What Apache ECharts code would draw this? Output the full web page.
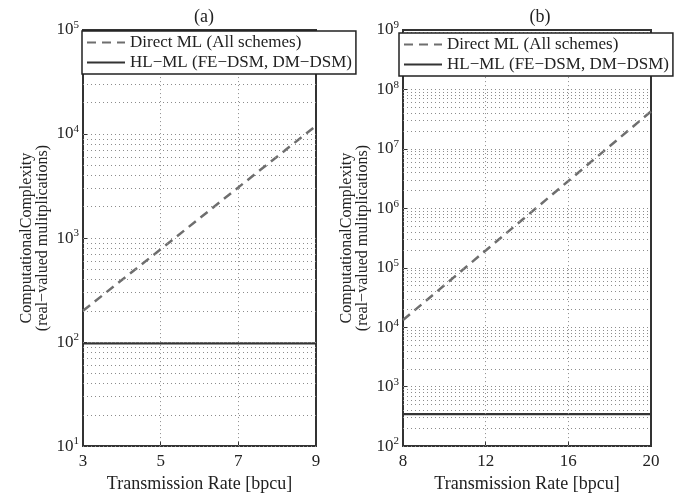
<!DOCTYPE html>
<html>
<head>
<meta charset="utf-8">
<script src="https://cdn.jsdelivr.net/npm/echarts@6/dist/echarts.min.js"></script>
<style>
  html, body { margin: 0; padding: 0; background: #fff; }
  #chart { width: 681px; height: 498px; }
</style>
</head>
<body>
<div id="chart"></div>
<script>
// (a) left panel
var rateA = [3, 5, 7, 9]
var directA = [200, 780, 3070, 12000]
var hlA = [97, 97, 97, 97]
var xTicksA = [3, 5, 7, 9]

// (b) right panel
var rateB = [8, 12, 16, 20]
var directB = [13200, 195000, 2880000, 42700000]
var hlB = [345, 345, 345, 345]
var xTicksB = [8, 12, 16, 20]

var nameDirect = 'Direct ML (All schemes)'
var nameHL = 'HL\u2212ML (FE\u2212DSM, DM\u2212DSM)'
var yName = 'ComputationalComplexity\n(real\u2212valued mulitplications)'

var font = 'Liberation Serif'
var ink = '#222'
var gridColor = '#8c8c8c'

function pairs(xs, ys) {
  return xs.map(function (x, i) { return [x, ys[i]] })
}

// minor + major horizontal grid values for a log axis
function logGrid(lo, hi) {
  var out = []
  for (var e = lo; e < hi; e++) {
    for (var m = 1; m < 10; m++) out.push({ yAxis: m * Math.pow(10, e) })
  }
  return out
}

function xGrid(ticks) {
  return ticks.slice(1, -1).map(function (v) { return { xAxis: v } })
}

function supLabel(v) {
  return '10{sup|' + Math.round(Math.log10(v)) + '}'
}

function xAxisOf(idx, min, max, ticks) {
  return {
    gridIndex: idx,
    type: 'value',
    min: min,
    max: max,
    interval: 1,
    name: 'Transmission Rate [bpcu]',
    nameLocation: 'middle',
    nameGap: 27,
    nameTextStyle: { fontFamily: font, fontSize: 18, color: ink },
    axisLine: { lineStyle: { color: '#333', width: 2 } },
    axisTick: { inside: true, length: 5, customValues: ticks, lineStyle: { color: '#333' } },
    axisLabel: { customValues: ticks, fontFamily: font, fontSize: 17, color: ink, margin: 7 },
    splitLine: { show: false }
  }
}

function yAxisOf(idx, min, max) {
  return {
    gridIndex: idx,
    type: 'log',
    logBase: 10,
    min: min,
    max: max,
    name: yName,
    nameLocation: 'middle',
    nameRotate: 90,
    nameGap: 32,
    nameTextStyle: { fontFamily: font, fontSize: 16, color: ink, lineHeight: 16 },
    axisLine: { lineStyle: { color: '#333', width: 2 } },
    axisTick: { inside: true, length: 5, lineStyle: { color: '#333' } },
    axisLabel: {
      formatter: supLabel,
      fontFamily: font,
      fontSize: 17,
      color: ink,
      margin: 4,
      rich: {
        sup: { fontFamily: font, fontSize: 11, color: ink, padding: [0, 0, 9, 0] }
      }
    },
    splitLine: { show: false }
  }
}

function gridSeries(xi, lo, hi, ticks) {
  return {
    name: 'grid',
    type: 'line',
    xAxisIndex: xi,
    yAxisIndex: xi,
    data: [],
    z: 1,
    markLine: {
      silent: true,
      symbol: 'none',
      animation: false,
      label: { show: false },
      lineStyle: { color: gridColor, type: [1, 3], width: 1 },
      emphasis: { disabled: true },
      data: logGrid(lo, hi).concat(xGrid(ticks))
    }
  }
}

function directSeries(xi, xs, ys) {
  return {
    name: nameDirect,
    type: 'line',
    xAxisIndex: xi,
    yAxisIndex: xi,
    data: pairs(xs, ys),
    symbol: 'none',
    z: 3,
    lineStyle: { color: '#6e6e6e', width: 2.5, type: [9, 6] },
    itemStyle: { color: '#6e6e6e' }
  }
}

function hlSeries(xi, xs, ys) {
  return {
    name: nameHL,
    type: 'line',
    xAxisIndex: xi,
    yAxisIndex: xi,
    data: pairs(xs, ys),
    symbol: 'none',
    z: 3,
    lineStyle: { color: '#333', width: 2.2 },
    itemStyle: { color: '#333' }
  }
}

function legendOf(left, top) {
  return {
    data: [nameDirect, nameHL],
    orient: 'vertical',
    left: left,
    top: top,
    itemWidth: 38,
    itemHeight: 12,
    itemGap: 3,
    itemStyle: { opacity: 0 },
    padding: [3, 4, 3, 4],
    backgroundColor: '#fff',
    borderColor: '#222',
    borderWidth: 1.5,
    borderRadius: 0,
    selectedMode: false,
    textStyle: { fontFamily: font, fontSize: 17, color: ink },
    z: 10
  }
}

var chart = echarts.init(document.getElementById('chart'), null, { renderer: 'canvas' })

chart.setOption({
  animation: false,
  backgroundColor: '#fff',
  title: [
    { text: '(a)', left: 199, top: 3, textAlign: 'center', textStyle: { fontFamily: font, fontSize: 18, fontWeight: 'normal', color: ink } },
    { text: '(b)', left: 535, top: 3, textAlign: 'center', textStyle: { fontFamily: font, fontSize: 18, fontWeight: 'normal', color: ink } }
  ],
  legend: [legendOf(82, 31), legendOf(399, 33)],
  grid: [
    { left: 83, right: 365, top: 30, bottom: 48, show: true, borderColor: '#333', borderWidth: 2, backgroundColor: 'transparent' },
    { left: 403, right: 30, top: 30, bottom: 49, show: true, borderColor: '#333', borderWidth: 2, backgroundColor: 'transparent' }
  ],
  xAxis: [xAxisOf(0, 3, 9, xTicksA), xAxisOf(1, 8, 20, xTicksB)],
  yAxis: [yAxisOf(0, 10, 100000), yAxisOf(1, 100, 1000000000)],
  series: [
    gridSeries(0, 1, 5, xTicksA),
    directSeries(0, rateA, directA),
    hlSeries(0, rateA, hlA),
    gridSeries(1, 2, 9, xTicksB),
    directSeries(1, rateB, directB),
    hlSeries(1, rateB, hlB)
  ]
})
</script>
</body>
</html>
